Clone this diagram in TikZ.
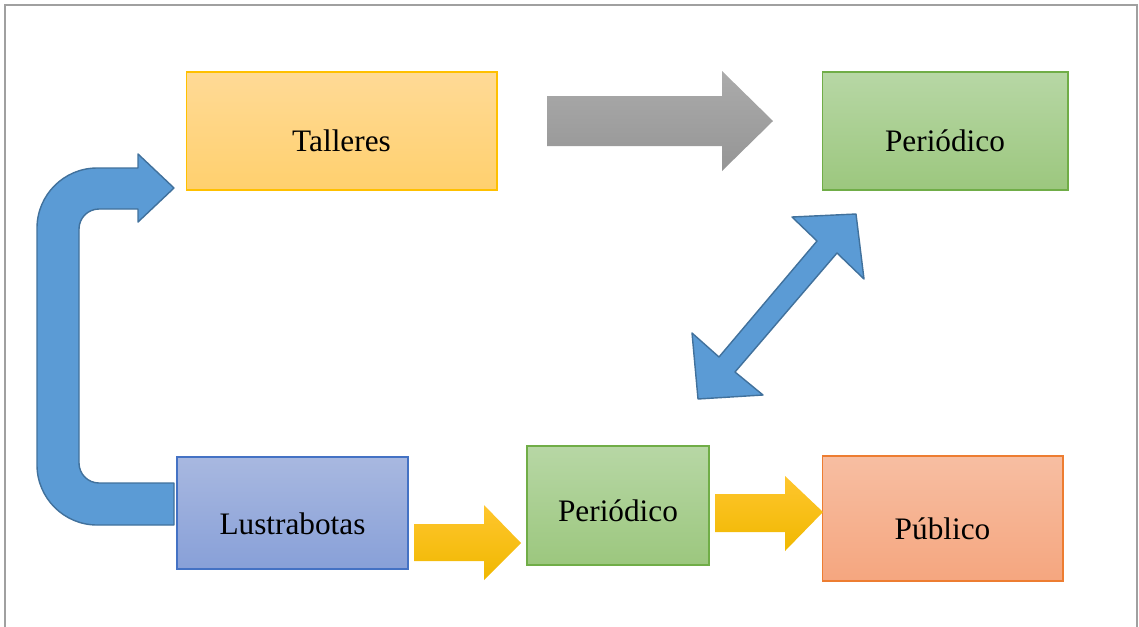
\documentclass[tikz,border=0pt]{standalone}
\usepackage{fontspec}
\setmainfont{Liberation Serif}
\usetikzlibrary{positioning}

\definecolor{frameGray}{HTML}{A0A0A0}
\definecolor{tallTop}{HTML}{FFDA96}
\definecolor{tallBot}{HTML}{FFD06E}
\definecolor{tallLine}{HTML}{FFC000}
\definecolor{perTop}{HTML}{B7D7A5}
\definecolor{perBot}{HTML}{9CC77E}
\definecolor{perLine}{HTML}{70AD47}
\definecolor{lusTop}{HTML}{A8B8E0}
\definecolor{lusBot}{HTML}{88A0D8}
\definecolor{lusLine}{HTML}{4472C4}
\definecolor{pubTop}{HTML}{F7BEA2}
\definecolor{pubBot}{HTML}{F5A67F}
\definecolor{pubLine}{HTML}{ED7D31}
\definecolor{grayTop}{HTML}{ABABAB}
\definecolor{grayBot}{HTML}{959595}
\definecolor{yelTop}{HTML}{FFC62E}
\definecolor{yelMid}{HTML}{FFC000}
\definecolor{yelBot}{HTML}{F0B800}
\definecolor{blueFill}{HTML}{5B9BD5}
\definecolor{blueLine}{HTML}{41719C}

\begin{document}
\begin{tikzpicture}[x=0.02cm, y=-0.02cm,
    box/.style={rectangle, draw, line width=0.6pt, inner sep=0pt},
    caption/.style={font=\fontsize{17.8}{20}\selectfont, text=black, inner sep=0pt},
    grayArrow/.style={top color=grayTop, bottom color=grayBot, draw=none},
    yellowArrow/.style={top color=yelTop, middle color=yelMid, bottom color=yelBot, draw=none},
    blueArrow/.style={fill=blueFill, draw=blueLine, line width=0.8pt, line join=round}]
\useasboundingbox (0,0) rectangle (1139,626);

% frame
\draw[frameGray, line width=1.2pt] (5,640) -- (5,5) -- (1137,5) -- (1137,640);

% boxes
\node[box, draw=tallLine, top color=tallTop, bottom color=tallBot, minimum width=6.22cm, minimum height=2.36cm] (talleres) at (341.5,131) {};
\node[box, draw=perLine, top color=perTop, bottom color=perBot, minimum width=4.92cm, minimum height=2.36cm] (periodicoA) at (945,131) {};
\node[box, draw=lusLine, top color=lusTop, bottom color=lusBot, minimum width=4.62cm, minimum height=2.24cm] (lustrabotas) at (292.5,513) {};
\node[box, draw=perLine, top color=perTop, bottom color=perBot, minimum width=3.64cm, minimum height=2.38cm] (periodicoB) at (618,505.5) {};
\node[box, draw=pubLine, top color=pubTop, bottom color=pubBot, minimum width=4.82cm, minimum height=2.5cm] (publico) at (942.5,518.5) {};

\node[caption] (talleresText) at ([yshift=-0.2cm]talleres.center) {Talleres};
\node[caption] (periodicoAText) at ([yshift=-0.2cm]periodicoA.center) {Periódico};
\node[caption] (lustrabotasText) at ([yshift=-0.22cm]lustrabotas.center) {Lustrabotas};
\node[caption] (periodicoBText) at ([yshift=-0.1cm]periodicoB.center) {Periódico};
\node[caption] (publicoText) at ([yshift=-0.2cm]publico.center) {Público};

% block arrows
\path[grayArrow] (547,96) -- (722,96) -- (722,71) -- (773,121) -- (722,171) -- (722,146) -- (547,146) -- cycle;
\path[yellowArrow] (414,524) -- (484,524) -- (484,505) -- (521,543) -- (484,580) -- (484,561) -- (414,561) -- cycle;
\path[yellowArrow] (715,494) -- (785,494) -- (785,476) -- (823,512) -- (785,551) -- (785,532) -- (715,532) -- cycle;

\draw[blueArrow] (174,483) -- (99,483) .. controls (88,483) and (79,474) .. (79,463) -- (79,229)
    .. controls (79,218) and (88,209) .. (99,209) -- (138,209) -- (138,222) -- (174,188) -- (138,154)
    -- (138,168) -- (97,168) .. controls (64,168) and (37,195) .. (37,228) -- (37,465)
    .. controls (37,498) and (64,525) .. (97,525) -- (174,525) -- cycle;

\draw[blueArrow] (856,214) -- (864,279) -- (837,253) -- (735,372) -- (763,395) -- (698,399)
    -- (692,333) -- (719,357) -- (817,241) -- (792,217) -- cycle;

\end{tikzpicture}
\end{document}
